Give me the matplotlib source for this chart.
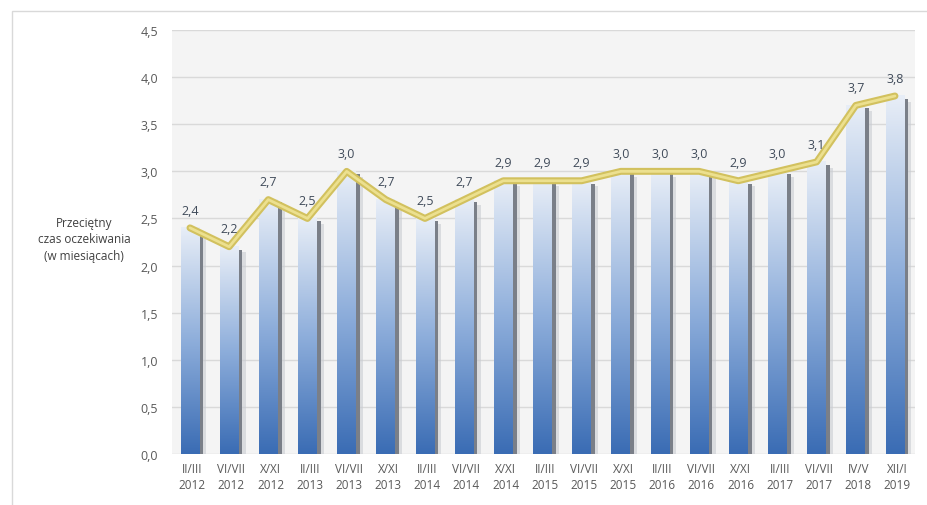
import matplotlib
matplotlib.use("Agg")
import matplotlib.pyplot as plt
import numpy as np
from matplotlib.colors import LinearSegmentedColormap
from matplotlib.patches import Rectangle

periods = ["II/III", "VI/VII", "X/XI", "II/III", "VI/VII", "X/XI", "II/III", "VI/VII", "X/XI",
           "II/III", "VI/VII", "X/XI", "II/III", "VI/VII", "X/XI", "II/III", "VI/VII", "IV/V", "XII/I"]
years = ["2012", "2012", "2012", "2013", "2013", "2013", "2014", "2014", "2014",
         "2015", "2015", "2015", "2016", "2016", "2016", "2017", "2017", "2018", "2019"]
values = [2.4, 2.2, 2.7, 2.5, 3.0, 2.7, 2.5, 2.7, 2.9, 2.9, 2.9, 3.0, 3.0, 3.0, 2.9, 3.0, 3.1, 3.7, 3.8]

y_ticks = [0.0, 0.5, 1.0, 1.5, 2.0, 2.5, 3.0, 3.5, 4.0, 4.5]
y_label = "Przeciętny\nczas oczekiwania\n(w miesiącach)"

plt.rcParams["font.family"] = ["Open Sans", "DejaVu Sans"]

fig = plt.figure(figsize=(9.27, 5.06), dpi=100)
ax = fig.add_axes([0.1855, 0.1008, 0.8015, 0.8379])

# outer frame of the chart object
fig.patches.append(Rectangle((12 / 927, -0.01), 1.0, 1 - 12 / 506 + 0.01,
                             transform=fig.transFigure, fill=False,
                             edgecolor="#d9d9d9", linewidth=1.0))

ax.set_facecolor("#f4f4f4")
for s in ax.spines.values():
    s.set_visible(False)

ax.set_yticks(y_ticks)
ax.set_yticklabels([f"{t:.1f}".replace(".", ",") for t in y_ticks])
ax.yaxis.grid(True, color="#d9d9d9", linewidth=1.0)
ax.set_axisbelow(True)
ax.tick_params(axis="both", length=0, labelsize=9, colors="#595959")
ax.tick_params(axis="y", pad=10)
ax.tick_params(axis="x", pad=6)

x = np.arange(len(values))
ax.set_xticks(x)
ax.set_xticklabels([f"{p}\n{y}" for p, y in zip(periods, years)], fontsize=8.5, linespacing=1.3)

cmap = LinearSegmentedColormap.from_list("bar", ["#3a6cb4", "#8eaedb", "#e8eef7"])
grad = np.linspace(0, 1, 256).reshape(-1, 1)
bw = 0.48
for xi, v in zip(x, values):
    x0 = xi - 0.06 - bw / 2
    # shadow on the right
    ax.add_patch(Rectangle((x0 + bw, 0), 0.1, v - 0.03, facecolor="#7a7f88",
                           edgecolor="none", zorder=2))
    ax.add_patch(Rectangle((x0 + bw + 0.1, 0), 0.08, v - 0.06, facecolor="#c9ccd2",
                           edgecolor="none", alpha=0.6, zorder=2))
    ax.imshow(grad, cmap=cmap, origin="lower", aspect="auto",
              extent=[x0, x0 + bw, 0, v], zorder=3, interpolation="bicubic")

ax.set_xlim(-0.52, len(values) - 0.55)
ax.set_ylim(0, 4.5)

ax.plot(x - 0.06, values, color="#d2c15e", linewidth=5, solid_joinstyle="round",
        solid_capstyle="round", zorder=4)
ax.plot(x - 0.06, values, color="#ece08f", linewidth=2, solid_joinstyle="round",
        solid_capstyle="round", zorder=5)

for xi, v in zip(x, values):
    ax.text(xi - 0.06, v + 0.12, f"{v:.1f}".replace(".", ","), ha="center", va="bottom",
            fontsize=9, color="#404b5a", zorder=6)

fig.text(84 / 927, 1 - 240 / 506, y_label, ha="center", va="center", fontsize=8.5,
         color="#404040", linespacing=1.35)

fig.savefig("out.png", dpi=100)
